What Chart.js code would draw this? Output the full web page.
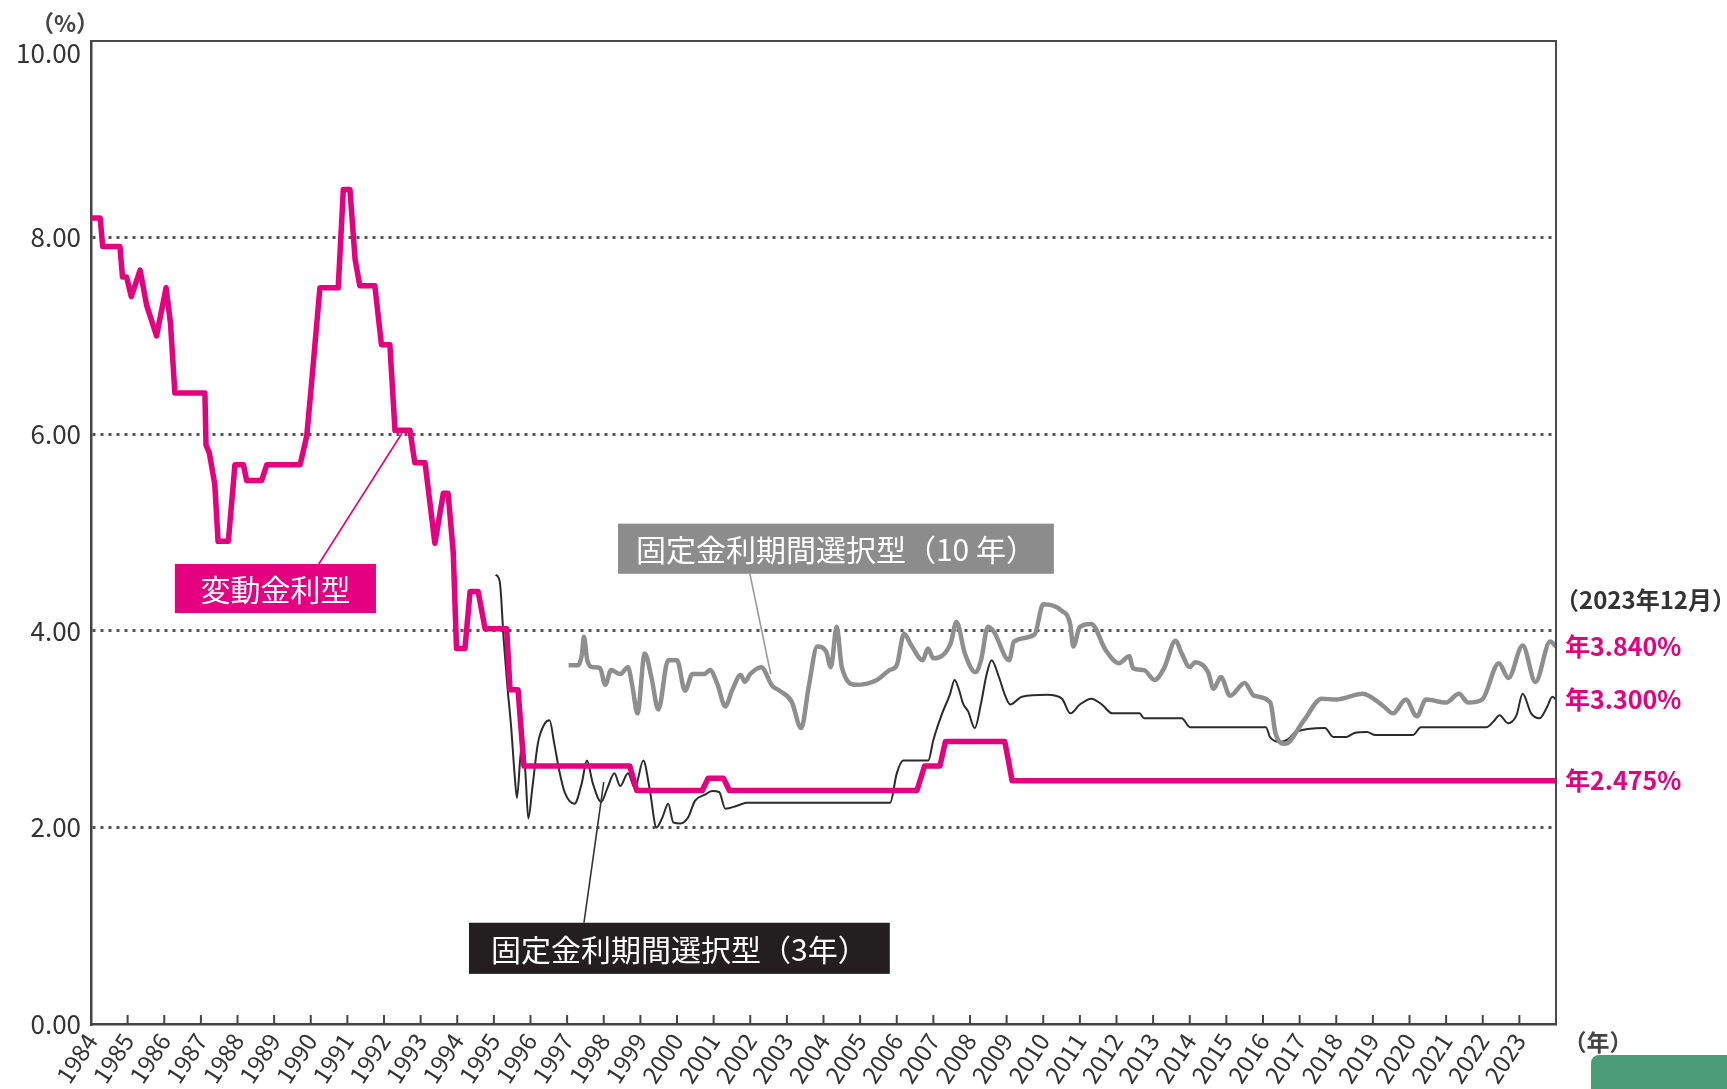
<!DOCTYPE html>
<html><head><meta charset="utf-8">
<script src="https://cdn.jsdelivr.net/npm/chart.js@4.4.0/dist/chart.umd.min.js"></script>
<style>
html,body{margin:0;padding:0;background:#fff;overflow:hidden;}
#wrap{position:relative;width:1727px;height:1089px;}
#green{position:absolute;left:1591px;top:1055px;width:136px;height:34px;background:#4c9c79;border-top-left-radius:8px;}
</style></head><body>
<div id="wrap"><canvas id="c"></canvas><div id="green"></div></div>
<script>
// ---- data ----
const tickYears = [1984,1985,1986,1987,1988,1989,1990,1991,1992,1993,1994,1995,1996,1997,1998,1999,2000,2001,2002,2003,2004,2005,2006,2007,2008,2009,2010,2011,2012,2013,2014,2015,2016,2017,2018,2019,2020,2021,2022,2023];
const yTickLabels = ['0.00','2.00','4.00','6.00','8.00','10.00'];

// 変動金利型
const floatX = [1984.0,1984.25,1984.32,1984.79,1984.86,1984.97,1985.1,1985.34,1985.52,1985.79,1986.05,1986.17,1986.29,1987.11,1987.14,1987.23,1987.38,1987.47,1987.75,1987.93,1988.16,1988.25,1988.66,1988.8,1989.71,1989.89,1990.02,1990.25,1990.75,1990.89,1991.07,1991.21,1991.34,1991.75,1991.93,1992.16,1992.3,1992.71,1992.84,1993.12,1993.39,1993.62,1993.75,1993.89,1993.98,1994.21,1994.35,1994.57,1994.76,1995.35,1995.44,1995.66,1995.82,1998.71,1998.9,2000.69,2000.85,2001.27,2001.43,2006.55,2006.76,2007.18,2007.33,2008.95,2009.15,2024.0];
const floatY = [8.20,8.20,7.91,7.91,7.60,7.60,7.40,7.67,7.31,7.00,7.49,7.13,6.42,6.42,5.89,5.81,5.49,4.91,4.91,5.69,5.69,5.53,5.53,5.69,5.69,5.98,6.51,7.49,7.49,8.49,8.49,7.78,7.51,7.51,6.91,6.91,6.04,6.04,5.71,5.71,4.89,5.40,5.40,4.80,3.82,3.82,4.40,4.40,4.02,4.02,3.40,3.40,2.625,2.625,2.375,2.375,2.5,2.5,2.375,2.375,2.625,2.625,2.875,2.875,2.475,2.475];

// 固定金利期間選択型(3年)
const fix3X = [1995.05,1995.16,1995.27,1995.37,1995.47,1995.57,1995.63,1995.72,1995.79,1995.87,1995.94,1996.05,1996.2,1996.38,1996.52,1996.65,1996.8,1996.94,1997.2,1997.4,1997.54,1997.7,1997.93,1998.1,1998.29,1998.45,1998.66,1998.85,1999.08,1999.25,1999.44,1999.6,1999.76,1999.9,2000.1,2000.3,2000.49,2000.75,2000.96,2001.15,2001.32,2001.64,2001.9,2005.82,2006.0,2006.18,2006.86,2007.0,2007.24,2007.45,2007.58,2007.7,2007.81,2007.95,2008.13,2008.3,2008.45,2008.59,2008.79,2008.95,2009.1,2009.42,2010.11,2010.51,2010.74,2011.0,2011.31,2011.6,2011.89,2012.63,2012.75,2013.78,2014.01,2016.08,2016.19,2016.48,2016.7,2016.89,2017.69,2017.92,2018.27,2018.5,2018.84,2019.07,2020.1,2020.31,2022.11,2022.3,2022.46,2022.69,2022.92,2023.09,2023.32,2023.55,2023.75,2023.9,2024.0];
const fix3Y = [4.57,4.50,3.90,3.43,3.03,2.52,2.30,2.70,2.90,2.50,2.09,2.40,2.85,3.05,3.09,2.85,2.55,2.35,2.24,2.45,2.68,2.45,2.26,2.40,2.55,2.42,2.55,2.40,2.68,2.40,2.00,2.10,2.24,2.05,2.04,2.10,2.27,2.33,2.37,2.36,2.19,2.22,2.25,2.25,2.55,2.68,2.68,2.89,3.16,3.35,3.50,3.40,3.26,3.18,3.01,3.26,3.55,3.70,3.53,3.35,3.25,3.33,3.35,3.31,3.16,3.25,3.31,3.25,3.16,3.16,3.11,3.11,3.02,3.02,2.92,2.87,2.90,2.97,3.01,2.92,2.92,2.96,2.97,2.94,2.94,3.02,3.02,3.08,3.14,3.06,3.14,3.36,3.16,3.11,3.22,3.33,3.30];

// 固定金利期間選択型(10年)
const fix10X = [1997.04,1997.3,1997.4,1997.46,1997.55,1997.7,1997.9,1998.04,1998.2,1998.45,1998.66,1998.78,1998.92,1999.12,1999.3,1999.49,1999.76,2000.0,2000.22,2000.42,2000.75,2000.9,2001.1,2001.32,2001.5,2001.74,2001.85,2002.0,2002.3,2002.6,2002.8,2003.13,2003.39,2003.6,2003.83,2004.07,2004.2,2004.36,2004.5,2004.89,2005.46,2005.8,2006.0,2006.2,2006.4,2006.71,2006.85,2007.0,2007.47,2007.63,2007.86,2008.15,2008.3,2008.49,2008.65,2009.07,2009.2,2009.76,2010.0,2010.48,2010.74,2010.82,2011.0,2011.31,2011.71,2012.06,2012.35,2012.45,2012.75,2013.04,2013.3,2013.61,2013.78,2014.0,2014.15,2014.5,2014.65,2014.85,2015.1,2015.5,2015.75,2016.2,2016.34,2016.6,2017.12,2017.6,2018.0,2018.72,2019.3,2019.55,2019.9,2020.2,2020.45,2021.0,2021.35,2021.6,2021.98,2022.44,2022.7,2023.09,2023.44,2023.84,2024.0];
const fix10Y = [3.65,3.65,3.75,3.94,3.70,3.63,3.62,3.45,3.60,3.56,3.63,3.44,3.16,3.77,3.53,3.20,3.70,3.70,3.39,3.56,3.56,3.60,3.46,3.23,3.39,3.55,3.48,3.56,3.63,3.44,3.39,3.28,3.01,3.44,3.84,3.79,3.63,4.04,3.63,3.45,3.50,3.60,3.65,3.97,3.85,3.70,3.82,3.72,3.87,4.09,3.77,3.58,3.70,4.04,3.99,3.70,3.89,3.96,4.27,4.21,4.06,3.84,4.04,4.07,3.80,3.67,3.74,3.62,3.60,3.50,3.62,3.90,3.77,3.63,3.68,3.58,3.41,3.53,3.34,3.47,3.34,3.27,2.96,2.85,3.09,3.31,3.30,3.36,3.23,3.16,3.30,3.13,3.30,3.27,3.36,3.27,3.30,3.67,3.52,3.85,3.48,3.89,3.84];

const seriesNames = ['変動金利型','固定金利期間選択型（10 年）','固定金利期間選択型（3年）'];
const asPoints = (xs, ys) => xs.map((x, i) => ({x, y: ys[i]}));

// annotation layout (data units): box [x0, yTop, x1, yBottom], leader from -> to
const MAGENTA = '#e4007f';
const notes = [
  {text: seriesNames[0], fill: MAGENTA, line: MAGENTA, box: [1986.29, 4.68, 1991.78, 4.18], from: [1990.22, 4.68], to: [1992.49, 6.01]},
  {text: seriesNames[1], fill: '#8c8c8c', line: '#9a9a9a', box: [1998.39, 5.09, 2010.29, 4.58], from: [2001.99, 4.58], to: [2002.56, 3.56]},
  {text: seriesNames[2], fill: '#231f20', line: '#333', box: [1994.32, 1.03, 2005.81, 0.51], from: [1997.46, 1.03], to: [1998.0, 2.46]}
];

const F = "'Noto Sans CJK JP','Noto Sans',sans-serif";

const decor = {
  id: 'decor',
  afterDraw(chart) {
    const {ctx, chartArea: a, scales: {x, y}} = chart;
    ctx.save();
    // frame top/right
    ctx.strokeStyle = '#4a4a4a'; ctx.lineWidth = 2;
    ctx.beginPath(); ctx.moveTo(a.left, a.top); ctx.lineTo(a.right, a.top); ctx.lineTo(a.right, a.bottom); ctx.stroke();
    // inward x ticks
    ctx.strokeStyle = '#444'; ctx.lineWidth = 2;
    tickYears.forEach(v => {
      const px = x.getPixelForValue(v);
      ctx.beginPath(); ctx.moveTo(px, a.bottom); ctx.lineTo(px, a.bottom - 9); ctx.stroke();
    });
    // notes
    notes.forEach(n => {
      ctx.strokeStyle = n.line; ctx.lineWidth = 1.6;
      ctx.beginPath();
      ctx.moveTo(x.getPixelForValue(n.from[0]), y.getPixelForValue(n.from[1]));
      ctx.lineTo(x.getPixelForValue(n.to[0]), y.getPixelForValue(n.to[1]));
      ctx.stroke();
      const x0 = x.getPixelForValue(n.box[0]), x1 = x.getPixelForValue(n.box[2]);
      const y0 = y.getPixelForValue(n.box[1]), y1 = y.getPixelForValue(n.box[3]);
      ctx.fillStyle = n.fill; ctx.fillRect(x0, y0, x1 - x0, y1 - y0);
      ctx.fillStyle = '#fff'; ctx.font = `30px ${F}`; ctx.textAlign = 'center'; ctx.textBaseline = 'middle';
      ctx.fillText(n.text, (x0 + x1) / 2, (y0 + y1) / 2 + 1);
    });
    // top y label
    ctx.fillStyle = '#333'; ctx.font = `26px ${F}`; ctx.textAlign = 'right'; ctx.textBaseline = 'middle';
    ctx.fillText(yTickLabels[5], a.left - 10, y.getPixelForValue(10) + 12);
    // unit labels
    ctx.fillStyle = '#444'; ctx.font = `bold 23px ${F}`; ctx.textAlign = 'center';
    ctx.fillText('（%）', a.left - 26, a.top - 18);
    ctx.fillText('（年）', a.right + 42, a.bottom + 18);
    // end values
    const ends = [fix10Y[fix10Y.length - 1], fix3Y[fix3Y.length - 1], floatY[floatY.length - 1]];
    ctx.textAlign = 'left';
    ctx.font = `bold 24px ${F}`; ctx.fillStyle = '#333';
    ctx.fillText('（2023年12月）', a.right - 1, y.getPixelForValue(ends[0]) - 47);
    ctx.fillStyle = MAGENTA; ctx.font = `bold 25px ${F}`;
    ends.forEach(v => ctx.fillText('年' + v.toFixed(3) + '%', a.right + 9, y.getPixelForValue(v)));
    ctx.restore();
  }
};

Chart.defaults.font.family = F;
new Chart(document.getElementById('c'), {
  type: 'line',
  data: {
    datasets: [
      {label: seriesNames[0], data: asPoints(floatX, floatY), borderColor: MAGENTA, borderWidth: 5.5, pointRadius: 0, tension: 0, borderJoinStyle: 'round'},
      {label: seriesNames[1], data: asPoints(fix10X, fix10Y), borderColor: '#8e8e8e', borderWidth: 4.5, pointRadius: 0, cubicInterpolationMode: 'monotone', borderJoinStyle: 'round'},
      {label: seriesNames[2], data: asPoints(fix3X, fix3Y), borderColor: '#2b2b2b', borderWidth: 2, pointRadius: 0, cubicInterpolationMode: 'monotone', borderJoinStyle: 'round'}
    ]
  },
  options: {
    responsive: true, maintainAspectRatio: false, animation: false,
    layout: {padding: {left: 0, top: 41, right: 171, bottom: 0}},
    plugins: {legend: {display: false}, tooltip: {enabled: false}},
    scales: {
      x: {
        type: 'linear', min: 1984, max: 2024,
        afterFit(s) { s.height = 65; },
        grid: {display: false, drawTicks: false},
        border: {display: true, color: '#444', width: 2.5},
        ticks: {
          stepSize: 1, autoSkip: false, maxRotation: 57, minRotation: 57, padding: 4,
          color: '#333', font: {size: 24},
          callback: v => tickYears.includes(v) ? String(v) : ''
        }
      },
      y: {
        min: 0, max: 10,
        afterFit(s) { s.width = 91; },
        grid: {drawTicks: false, lineWidth: 3, color: c => (c.tick && (c.tick.value === 0 || c.tick.value === 10)) ? 'rgba(0,0,0,0)' : '#555'},
        border: {display: true, color: '#444', width: 2.5, dash: [3, 5]},
        ticks: {
          stepSize: 2, padding: 10, color: '#333', font: {size: 26},
          callback: v => v === 10 ? '' : yTickLabels[v / 2]
        }
      }
    }
  },
  plugins: [decor]
});
</script>
</body></html>
